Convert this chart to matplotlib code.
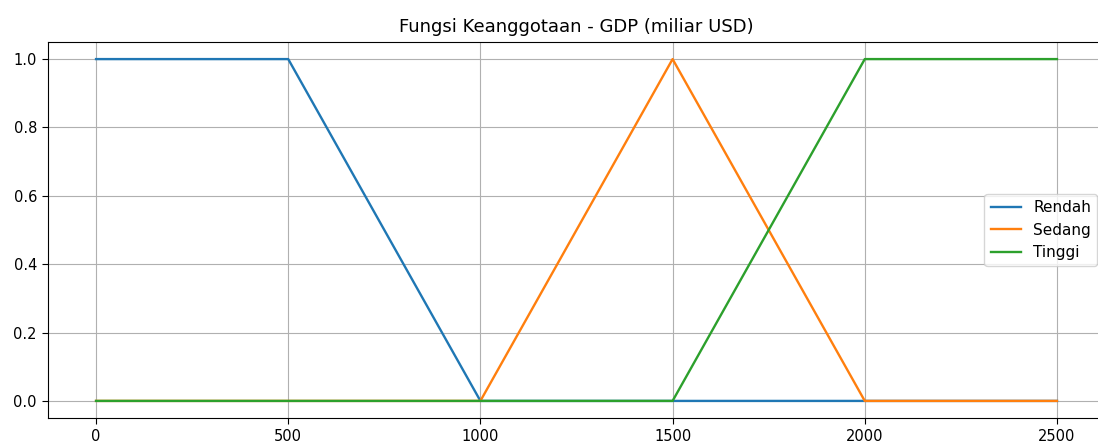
import matplotlib
matplotlib.use('Agg')
import matplotlib.pyplot as plt

# GDP universe breakpoints (miliar USD) and membership degrees
gdp = [0, 500, 1000, 1500, 2000, 2500]
rendah = [1, 1, 0, 0, 0, 0]
sedang = [0, 0, 0, 1, 0, 0]
tinggi = [0, 0, 0, 0, 1, 1]
labels = ['Rendah', 'Sedang', 'Tinggi']
xticks = [0, 500, 1000, 1500, 2000, 2500]

fig = plt.figure(figsize=(10.98, 4.44), dpi=100)
# axes run a little past the right edge, like the cropped original
ax = fig.add_axes([48/1098, 26/444, 1057/1098, 376/444])

ax.plot(gdp, rendah, label=labels[0], lw=1.7)
ax.plot(gdp, sedang, label=labels[1], lw=1.7)
ax.plot(gdp, tinggi, label=labels[2], lw=1.7)

ax.set_xlim(-125, 2625)
ax.set_ylim(-0.05, 1.05)
ax.set_xticks(xticks)
ax.tick_params(labelsize=10.5, length=4, pad=4)
ax.set_title('Fungsi Keanggotaan - GDP (miliar USD)', fontsize=13, pad=7)
ax.grid(True)
ax.legend(loc='center right', fontsize=11)

fig.savefig('out.png', dpi=100)
